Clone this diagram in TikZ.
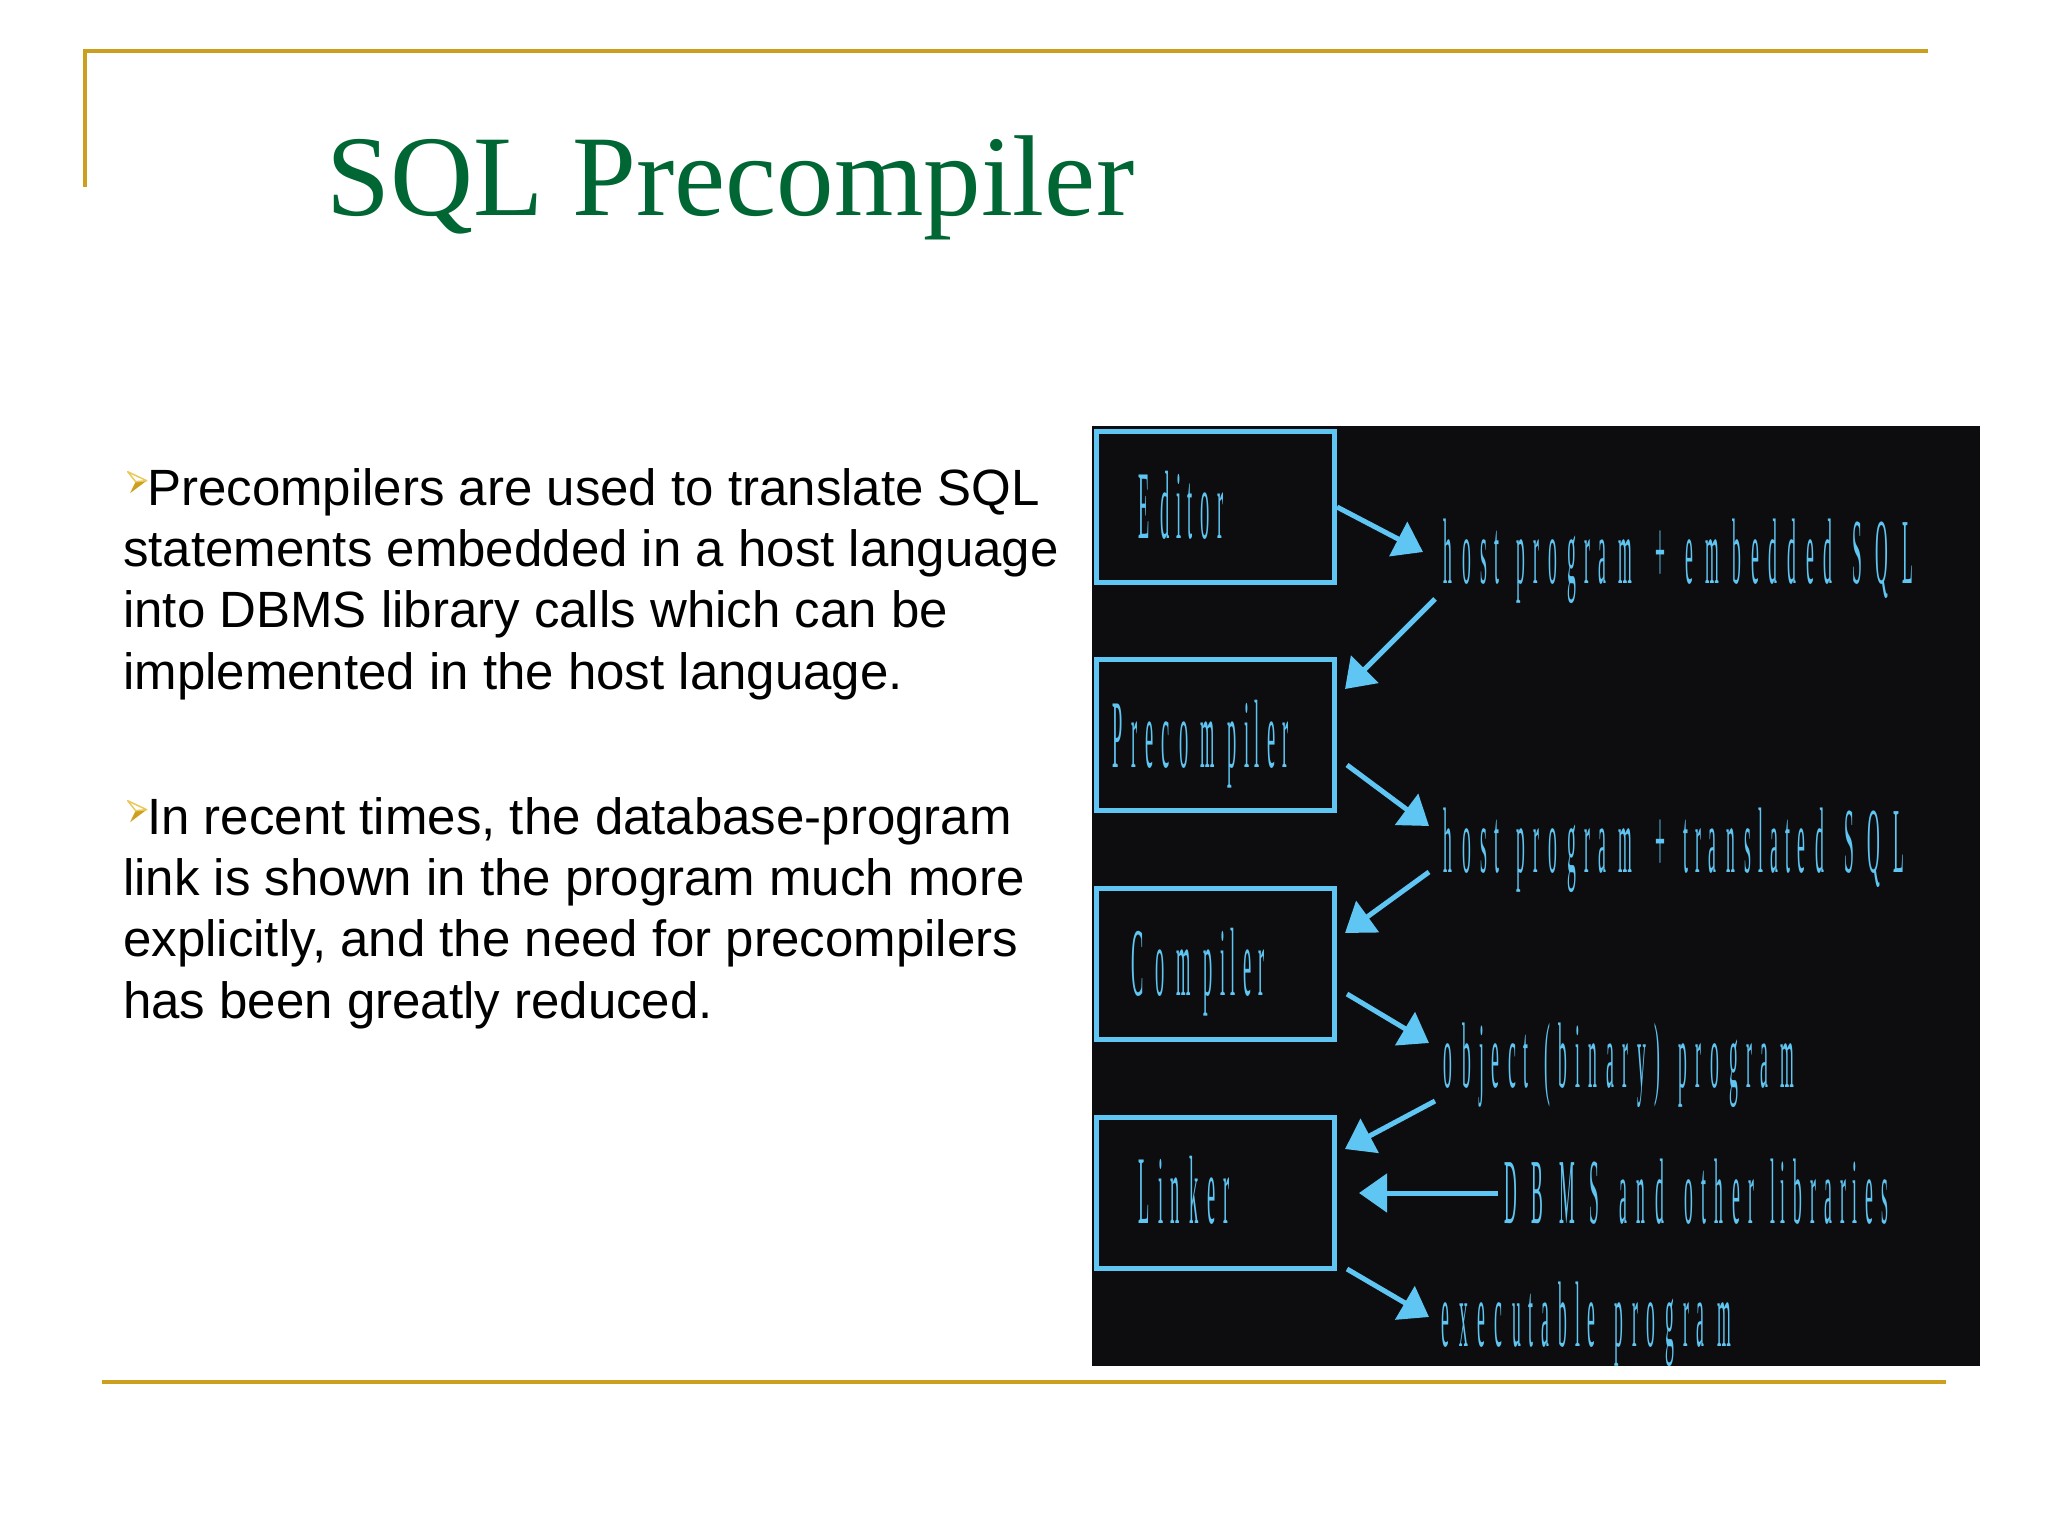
\documentclass[tikz,border=0pt]{standalone}
\usepackage{fontspec}
\usepackage{graphicx}
\setmainfont{Liberation Sans}
\newfontfamily\titlefont{Liberation Serif}
\newfontfamily\condfont{Liberation Serif}
\usetikzlibrary{arrows.meta}
\definecolor{gold}{RGB}{204,160,30}
\definecolor{goldlight}{RGB}{236,200,90}
\definecolor{titlegreen}{RGB}{0,102,51}
\definecolor{cyanc}{RGB}{95,197,242}
\definecolor{panel}{RGB}{13,13,15}
\makeatletter
\def\cwA{0.39}
\def\cwG{0.19}
\newcommand\cwchar[1]{\setbox\z@\hbox{#1}\hbox to \cwA\wd\z@{\hss\scalebox{\cwG}[1]{#1}\hss}}
\newcommand\cwword[1]{\@tfor\cw@c:=#1\do{\expandafter\cwchar\expandafter{\cw@c}}}
\def\cw@words#1 #2\cw@stop{\cwword{#1}\ifx\relax#2\relax\else\hskip\cwA\fontdimen2\font\relax\cw@words#2\cw@stop\fi}
\newcommand\cwline[1]{\cw@words#1 \cw@stop}
\makeatother
\begin{document}
\begin{tikzpicture}[x=1pt,y=-1pt,
  boxst/.style={draw=cyanc, line width=5pt, minimum width=238pt, minimum height=151pt, inner sep=0pt},
  boxlbl/.style={anchor=base west, inner sep=0pt, text=cyanc, font=\condfont\fontsize{97}{100}\selectfont\def\cwA{0.39}},
  flowlbl/.style={anchor=base west, inner sep=0pt, text=cyanc, font=\condfont\fontsize{93}{100}\selectfont\def\cwA{0.41}},
  flow/.style={draw=cyanc, line width=5pt, -{Triangle[length=28pt,width=38pt]}},
  goldline/.style={draw=gold, line width=4pt},
  body/.style={anchor=base west, inner sep=0pt, align=left, font=\fontsize{51}{61.3}\selectfont},
  bul/.pic={
    \fill[gold] (11.7,-23.3) -- (22.7,-24.3) -- (6,-11.7) -- cycle;
    \draw[goldlight, line width=1.5pt, line join=round] (3.7,-33.3) -- (22.7,-24.3) -- (11.7,-23.3) -- cycle;
  }
]
\useasboundingbox (0,0) rectangle (2048,1536);
\fill[white] (0,0) rectangle (2048,1536);
% frame lines
\draw[goldline] (85,51) -- (1928,51);
\draw[goldline] (85,49) -- (85,187);
\draw[goldline] (102,1382) -- (1946,1382);
% title
\node[anchor=base west, inner sep=0pt, text=titlegreen, font=\titlefont\fontsize{115}{130}\selectfont] (title) at (326,215) {SQL Precompiler};
% body text (base anchor = baseline of last line)
\pic at (124,505) {bul};
\node[body] (para1) at (123,689) {\hspace*{24pt}Precompilers are used to translate SQL\\statements embedded in a host language\\into DBMS library calls which can be\\implemented in the host language.};
\pic at (124,834) {bul};
\node[body] (para2) at (123,1018) {\hspace*{24pt}In recent times, the database-program\\link is shown in the program much more\\explicitly, and the need for precompilers\\has been greatly reduced.};
% panel
\fill[panel] (1092,426) rectangle (1980,1366);
% boxes
\node[boxst] (editor) at (1215,506.5) {};
\node[boxst] (precomp) at (1215,735) {};
\node[boxst] (compiler) at (1215,964) {};
\node[boxst] (linker) at (1215,1193) {};
\node[boxlbl] (editorT) at (1132,538) {\cwline{Editor}};
\node[boxlbl] (precompT) at (1107,767) {\cwline{Precompiler}};
\node[boxlbl] (compilerT) at (1125,995) {\cwline{Compiler}};
\node[boxlbl] (linkerT) at (1132,1223) {\cwline{Linker}};
% flow labels
\node[flowlbl] (hostE) at (1438,583) {\cwline{host program + embedded SQL}};
\node[flowlbl] (hostT) at (1438,872) {\cwline{host program + translated SQL}};
\node[flowlbl] (obj) at (1438,1087) {\cwline{object (binary) program}};
\node[flowlbl] (libs) at (1497,1223) {\cwline{DBMS and other libraries}};
\node[flowlbl] (exe) at (1437,1346) {\cwline{executable program}};
% arrow end points
\coordinate (a1s) at (1337,507);  \coordinate (a1e) at (1423,552);
\coordinate (a2s) at (1435,599);  \coordinate (a2e) at (1345,689);
\coordinate (a3s) at (1347,765);  \coordinate (a3e) at (1429,826);
\coordinate (a4s) at (1429,872);  \coordinate (a4e) at (1345,933);
\coordinate (a5s) at (1347,994);  \coordinate (a5e) at (1429,1043);
\coordinate (a6s) at (1435,1101); \coordinate (a6e) at (1345,1149);
\coordinate (a7s) at (1498,1193); \coordinate (a7e) at (1359,1193);
\coordinate (a8s) at (1347,1269); \coordinate (a8e) at (1429,1317);
\draw[flow] (a1s) -- (a1e);
\draw[flow] (a2s) -- (a2e);
\draw[flow] (a3s) -- (a3e);
\draw[flow] (a4s) -- (a4e);
\draw[flow] (a5s) -- (a5e);
\draw[flow] (a6s) -- (a6e);
\draw[flow] (a7s) -- (a7e);
\draw[flow] (a8s) -- (a8e);
\end{tikzpicture}
\end{document}
